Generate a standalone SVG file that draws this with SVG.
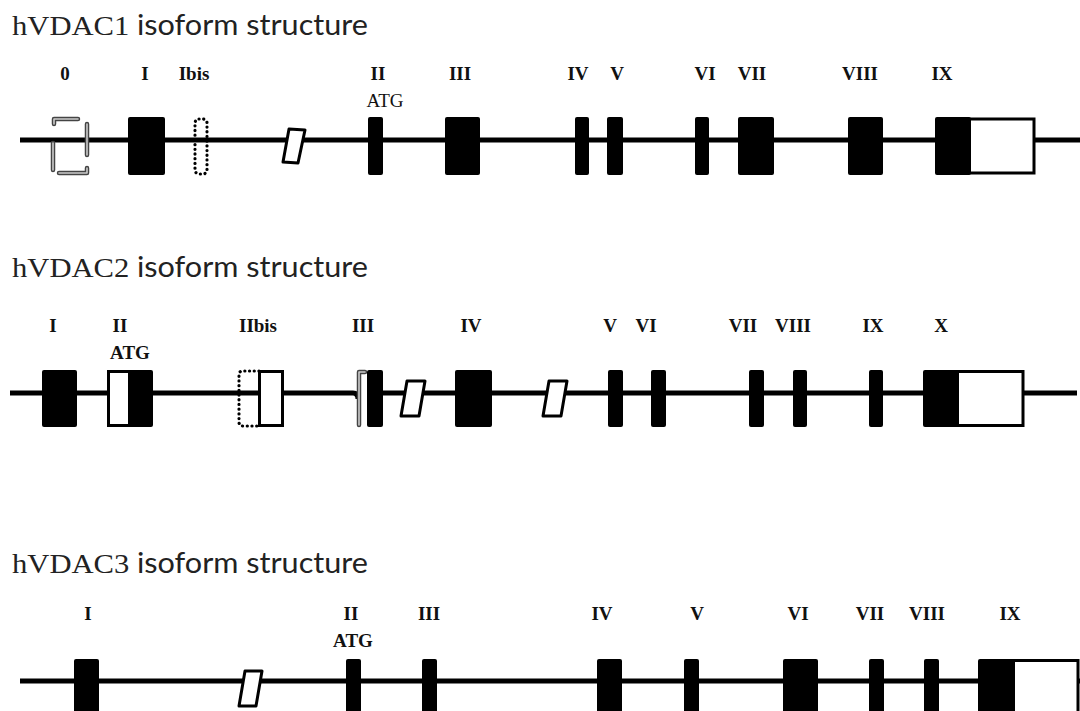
<svg xmlns="http://www.w3.org/2000/svg" width="1080" height="711" viewBox="0 0 1080 711">
<style>
.bg{fill:#fff}
.title{font-family:"Liberation Serif",serif;font-size:28px;fill:#222}
.sans{font-family:"Lato","Open Sans",sans-serif}
.lab{font-family:"Liberation Serif",serif;font-size:19px;font-weight:bold;fill:#111;text-anchor:middle}
.atg{font-family:"Liberation Serif",serif;font-size:19px;fill:#111;text-anchor:middle}
.gene{stroke:#000;stroke-width:5;fill:none}
.ex{fill:#000}
.utr{fill:#fff;stroke:#000;stroke-width:3}
.par{fill:#fff;stroke:#000;stroke-width:3;stroke-linejoin:round}
.dot{fill:none;stroke:#000;stroke-width:3.2;stroke-dasharray:0.1 4.6;stroke-linecap:round}
.gh1{fill:none;stroke:#444;stroke-width:4.5;stroke-linecap:round;stroke-linejoin:round}
.gh2{fill:none;stroke:#ccc;stroke-width:1.6;stroke-linecap:round;stroke-linejoin:round}
</style>
<rect class="bg" x="0" y="0" width="1080" height="711"/>

<!-- ===== hVDAC1 ===== -->
<g id="title1">
<text class="title" x="12" y="35" textLength="356" lengthAdjust="spacingAndGlyphs">hVDAC1 <tspan class="sans">isoform structure</tspan></text>
</g>
<g id="connectors1">
<line class="gene" x1="20" y1="140" x2="1080" y2="140"/>
</g>
<g id="v1-ex0">
<text class="lab" x="65" y="80">0</text>
<path class="gh1" d="M54 124 V119 H78 M87 124 V155 M53 143 V170 M59 173 H87 V168"/>
<path class="gh2" d="M54 124 V119 H78 M87 124 V155 M53 143 V170 M59 173 H87 V168"/>
</g>
<g id="v1-ex1">
<text class="lab" x="145" y="80">I</text>
<rect class="ex" x="128" y="117" width="37" height="58" rx="2"/>
</g>
<g id="v1-ex1bis">
<text class="lab" x="194" y="80">Ibis</text>
<rect class="dot" x="195" y="119" width="12" height="55" rx="4"/>
</g>
<g id="v1-alt">
<path class="par" d="M289 129 L305 130 L298 163 L283 162 Z"/>
</g>
<g id="v1-ex2">
<text class="lab" x="378" y="80">II</text>
<text class="atg" x="385" y="107">ATG</text>
<rect class="ex" x="368" y="117" width="15" height="58" rx="2"/>
</g>
<g id="v1-ex3">
<text class="lab" x="460" y="80">III</text>
<rect class="ex" x="445" y="117" width="35" height="58" rx="2"/>
</g>
<g id="v1-ex4">
<text class="lab" x="578" y="80">IV</text>
<rect class="ex" x="575" y="117" width="14" height="58" rx="2"/>
</g>
<g id="v1-ex5">
<text class="lab" x="617" y="80">V</text>
<rect class="ex" x="607" y="117" width="16" height="58" rx="2"/>
</g>
<g id="v1-ex6">
<text class="lab" x="705" y="80">VI</text>
<rect class="ex" x="695" y="117" width="14" height="58" rx="2"/>
</g>
<g id="v1-ex7">
<text class="lab" x="752" y="80">VII</text>
<rect class="ex" x="738" y="117" width="36" height="58" rx="2"/>
</g>
<g id="v1-ex8">
<text class="lab" x="860" y="80">VIII</text>
<rect class="ex" x="848" y="117" width="35" height="58" rx="2"/>
</g>
<g id="v1-ex9">
<text class="lab" x="942" y="80">IX</text>
<rect class="utr" x="968" y="119" width="66" height="54"/>
<rect class="ex" x="935" y="117" width="36" height="58" rx="2"/>
</g>

<!-- ===== hVDAC2 ===== -->
<g id="title2">
<text class="title" x="12" y="277" textLength="356" lengthAdjust="spacingAndGlyphs">hVDAC2 <tspan class="sans">isoform structure</tspan></text>
</g>
<g id="connectors2">
<path class="gene" d="M10 393 H353 Q358 393 358 399"/>
<line class="gene" x1="382" y1="393" x2="1077" y2="393"/>
</g>
<g id="v2-ex1">
<text class="lab" x="53" y="332">I</text>
<rect class="ex" x="42" y="370" width="35" height="57" rx="2"/>
</g>
<g id="v2-ex2">
<text class="lab" x="120" y="332">II</text>
<text class="lab" x="130" y="359">ATG</text>
<rect class="utr" x="108.5" y="371.5" width="21" height="54"/>
<rect class="ex" x="128" y="370" width="25" height="57" rx="2"/>
</g>
<g id="v2-ex2bis">
<text class="lab" x="258" y="332">IIbis</text>
<path class="dot" d="M259 371 H243 Q239 371 239 375 V422 Q239 426 243 426 H259"/>
<rect class="utr" x="259.5" y="371.5" width="23" height="54"/>
</g>
<g id="v2-ex3">
<text class="lab" x="363" y="332">III</text>
<path class="gh1" d="M365 372 H359 V425"/>
<path class="gh2" d="M365 372 H359 V425"/>
<rect class="ex" x="367" y="370" width="16" height="57" rx="2"/>
</g>
<g id="v2-alt1">
<path class="par" d="M407 381 L425 381 L419 416 L401 416 Z"/>
</g>
<g id="v2-ex4">
<text class="lab" x="471" y="332">IV</text>
<rect class="ex" x="455" y="370" width="37" height="57" rx="2"/>
</g>
<g id="v2-alt2">
<path class="par" d="M549 381 L567 381 L561 416 L543 416 Z"/>
</g>
<g id="v2-ex5">
<text class="lab" x="610" y="332">V</text>
<rect class="ex" x="608" y="370" width="15" height="57" rx="2"/>
</g>
<g id="v2-ex6">
<text class="lab" x="646" y="332">VI</text>
<rect class="ex" x="651" y="370" width="15" height="57" rx="2"/>
</g>
<g id="v2-ex7">
<text class="lab" x="743" y="332">VII</text>
<rect class="ex" x="749" y="370" width="15" height="57" rx="2"/>
</g>
<g id="v2-ex8">
<text class="lab" x="793" y="332">VIII</text>
<rect class="ex" x="793" y="370" width="14" height="57" rx="2"/>
</g>
<g id="v2-ex9">
<text class="lab" x="873" y="332">IX</text>
<rect class="ex" x="869" y="370" width="14" height="57" rx="2"/>
</g>
<g id="v2-ex10">
<text class="lab" x="941" y="332">X</text>
<rect class="utr" x="957" y="371.5" width="66" height="54"/>
<rect class="ex" x="923" y="370" width="36" height="57" rx="2"/>
</g>

<!-- ===== hVDAC3 ===== -->
<g id="title3">
<text class="title" x="12" y="573" textLength="356" lengthAdjust="spacingAndGlyphs">hVDAC3 <tspan class="sans">isoform structure</tspan></text>
</g>
<g id="connectors3">
<line class="gene" x1="20" y1="681" x2="1080" y2="681"/>
</g>
<g id="v3-ex1">
<text class="lab" x="88" y="620">I</text>
<rect class="ex" x="74" y="659" width="25" height="60" rx="2"/>
</g>
<g id="v3-alt">
<path class="par" d="M245 671 L262 671 L256 706 L239 706 Z"/>
</g>
<g id="v3-ex2">
<text class="lab" x="351" y="620">II</text>
<text class="lab" x="353" y="647">ATG</text>
<rect class="ex" x="346" y="659" width="15" height="60" rx="2"/>
</g>
<g id="v3-ex3">
<text class="lab" x="429" y="620">III</text>
<rect class="ex" x="422" y="659" width="15" height="60" rx="2"/>
</g>
<g id="v3-ex4">
<text class="lab" x="602" y="620">IV</text>
<rect class="ex" x="597" y="659" width="25" height="60" rx="2"/>
</g>
<g id="v3-ex5">
<text class="lab" x="697" y="620">V</text>
<rect class="ex" x="684" y="659" width="15" height="60" rx="2"/>
</g>
<g id="v3-ex6">
<text class="lab" x="798" y="620">VI</text>
<rect class="ex" x="783" y="659" width="35" height="60" rx="2"/>
</g>
<g id="v3-ex7">
<text class="lab" x="870" y="620">VII</text>
<rect class="ex" x="869" y="659" width="15" height="60" rx="2"/>
</g>
<g id="v3-ex8">
<text class="lab" x="927" y="620">VIII</text>
<rect class="ex" x="924" y="659" width="15" height="60" rx="2"/>
</g>
<g id="v3-ex9">
<text class="lab" x="1010" y="620">IX</text>
<rect class="utr" x="1013" y="660.5" width="65" height="60"/>
<rect class="ex" x="978" y="659" width="37" height="60" rx="2"/>
</g>
</svg>
